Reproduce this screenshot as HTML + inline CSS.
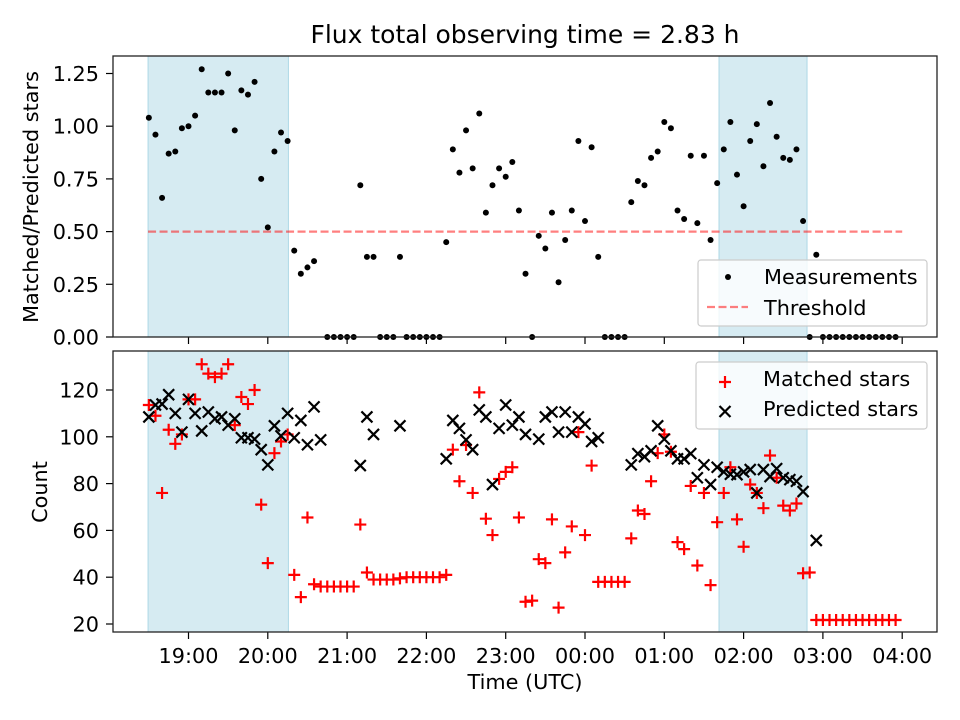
<!DOCTYPE html>
<html><head><meta charset="utf-8"><style>
body{margin:0;background:#fff}
svg{display:block;font-family:"DejaVu Sans","Liberation Sans",sans-serif}
</style></head><body>
<svg id="chart" width="960" height="720" viewBox="0 0 960 720" xmlns="http://www.w3.org/2000/svg">
<rect width="960" height="720" fill="#fff"/>
<text x="525" y="43" font-size="25" text-anchor="middle" fill="#000">Flux total observing time = 2.83 h</text>
<g id="topPlot"></g><g id="botPlot"></g>
</svg>
<script>
// Sample times: index k -> 18:30 + 5 min * k
const startTime = 18.5;
const stepMinutes = 5;
const ratio = [1.04,0.96,0.66,0.87,0.88,0.99,1.00,1.05,1.27,1.16,1.16,1.16,1.25,0.98,1.17,1.15,1.21,0.75,0.52,0.88,0.97,0.93,0.41,0.30,0.33,0.36,null,0,0,0,0,0,0.72,0.38,0.38,0,0,0,0.38,0,0,0,0,0,0,0.45,0.89,0.78,0.98,0.80,1.06,0.59,0.72,0.80,0.76,0.83,0.60,0.30,0,0.48,0.42,0.59,0.26,0.46,0.60,0.93,0.55,0.90,0.38,0,0,0,0,0.64,0.74,0.72,0.85,0.88,1.02,0.99,0.60,0.56,0.86,0.54,0.86,0.46,0.73,0.89,1.02,0.77,0.62,0.93,1.01,0.81,1.11,0.95,0.85,0.84,0.89,0.55,0,0.39,0,0,0,0,0,0,0,0,0,0,0,0];
const matched = [113.6,109,76,103,97,101,116,116,131,127,125.5,127,131,105,117,114,120,71,46,93,98,101,41,31.5,65.5,37,36,36,36,36,36,36,62.5,42,39,39,39,39,39.5,40,40,40,40,40,40,41,94.5,81,96.5,76,119,65,58,82,85,87,65.5,29.5,30,47.7,46,64.7,27,50.6,61.7,102,58,87.7,38,38,38,38,38,56.6,68.5,67,81,93,101,93.6,55,52,79,45,76,36.6,63.5,76,87,64.7,53,79.6,76,69.5,92,82.5,70.6,68.5,71.5,41.7,42,21.7,21.7,21.7,21.7,21.7,21.7,21.7,21.7,21.7,21.7,21.7,21.7,21.7];
const predicted = [108.5,113.6,114,118,110,102,116,110,102.5,110.6,107.7,108.5,105,107.7,99.6,99.6,99,94.5,88,104.7,100.4,110,99.6,107,96.6,112.8,98.7,null,null,null,null,null,87.7,108.5,101,null,null,null,104.7,null,null,null,null,null,null,90.6,107,103.6,98.7,94.5,111.5,108.5,79.6,103.6,113.6,105,108.5,101,null,99,108.5,110.6,102,110.6,102,108.5,105.5,98,99.6,null,null,null,null,88,92.8,91.5,94,104.7,99,94,90.6,90.6,92.8,82.5,88,79.6,87,85,84,83.8,85,86,76,86,83,86.4,82.5,81.7,81,76.6,null,55.7];
const shadeBands = [[18.49,20.26],[25.69,26.80]];
const threshold = 0.5;
const thresholdRange = [18.49,28.0];
const xTickHours = [19,20,21,22,23,24,25,26,27,28];
const xTickLabels = ["19:00","20:00","21:00","22:00","23:00","00:00","01:00","02:00","03:00","04:00"];
const topTicks = [0,0.25,0.5,0.75,1.0,1.25];
const topTickLabels = ["0.00","0.25","0.50","0.75","1.00","1.25"];
const botTicks = [20,40,60,80,100,120];

const NS="http://www.w3.org/2000/svg";
const L=113,R=937;
const T1=56,B1=337,T2=351,B2=632;
const FS=20.8;
function X(t){return 188.5+(t-19)*79.3;}
function Y1(v){return 337-v*210.8;}
function Y2(v){return 624-(v-20)*2.34;}
function tk(k){return startTime+k*stepMinutes/60;}
function mk(tag,at,parent){const e=document.createElementNS(NS,tag);for(const a in at)e.setAttribute(a,at[a]);parent.appendChild(e);return e;}
const topG=document.getElementById('topPlot'),botG=document.getElementById('botPlot');

function axesBase(g,T,B){
  for(const b of shadeBands){
    const r=mk('rect',{x:X(b[0]),y:T,width:X(b[1])-X(b[0]),height:B-T,fill:'#add8e6','fill-opacity':0.5,stroke:'#add8e6','stroke-width':1},g);
    
    
  }
  xTickHours.forEach((h,i)=>{
    const l=mk('line',{x1:X(h),x2:X(h),y1:B,y2:B+7,stroke:'#000','stroke-width':1.2},g);
    
    
  });
}
function frame(g,T,B,name){
  const f=mk('rect',{x:L,y:T,width:R-L,height:B-T,fill:'none',stroke:'#222','stroke-width':1.3},g);
  
  
}
// TOP
axesBase(topG,T1,B1);
const th=mk('line',{x1:X(thresholdRange[0]),x2:X(thresholdRange[1]),y1:Y1(threshold),y2:Y1(threshold),stroke:'#ff0000','stroke-opacity':0.5,'stroke-width':2.2,'stroke-dasharray':'8,3.5'},topG);


ratio.forEach((v,k)=>{if(v===null)return;
  const c=mk('circle',{cx:X(tk(k)),cy:Y1(v),r:3,fill:'#000'},topG);
  
  
});
topTicks.forEach((v,i)=>{
  mk('line',{x1:L-7,x2:L,y1:Y1(v),y2:Y1(v),stroke:'#000','stroke-width':1.2},topG);
  const t=mk('text',{x:L-14,y:Y1(v)+7.5,'font-size':FS,'text-anchor':'end'},topG);t.textContent=topTickLabels[i];
  
  
});
frame(topG,T1,B1,'top-axes');
{const t=mk('text',{x:0,y:0,'font-size':FS,'text-anchor':'middle',transform:'translate(38,197) rotate(-90)'},topG);t.textContent='Matched/Predicted stars';

}
{const g=mk('g',{},topG);


mk('rect',{x:698,y:260,width:229,height:66,rx:3,fill:'#fff','fill-opacity':0.8,stroke:'#ccc','stroke-width':1.2},g);
mk('circle',{cx:728,cy:277,r:3,fill:'#000'},g);
let t=mk('text',{x:764,y:284,'font-size':FS},g);t.textContent='Measurements';
mk('line',{x1:707,x2:748,y1:307,y2:307,stroke:'#ff0000','stroke-opacity':0.5,'stroke-width':2.2,'stroke-dasharray':'8,3.5'},g);
t=mk('text',{x:764,y:315,'font-size':FS},g);t.textContent='Threshold';}

// BOTTOM
axesBase(botG,T2,B2);
matched.forEach((v,k)=>{if(v===null)return;
  const x=X(tk(k)),y=Y2(v);
  const p=mk('path',{d:`M${x-6},${y}H${x+6}M${x},${y-6}V${y+6}`,stroke:'#ff0000','stroke-width':2.2},botG);
  
  
});
predicted.forEach((v,k)=>{if(v===null)return;
  const x=X(tk(k)),y=Y2(v);
  const p=mk('path',{d:`M${x-5.5},${y-5.5}L${x+5.5},${y+5.5}M${x-5.5},${y+5.5}L${x+5.5},${y-5.5}`,stroke:'#000','stroke-width':2.2},botG);
  
  
});
botTicks.forEach(v=>{
  mk('line',{x1:L-7,x2:L,y1:Y2(v),y2:Y2(v),stroke:'#000','stroke-width':1.2},botG);
  const t=mk('text',{x:L-14,y:Y2(v)+7.5,'font-size':FS,'text-anchor':'end'},botG);t.textContent=String(v);
  
  
});
xTickHours.forEach((h,i)=>{
  const t=mk('text',{x:X(h),y:663,'font-size':FS,'text-anchor':'middle'},botG);t.textContent=xTickLabels[i];
  
  
});
frame(botG,T2,B2,'bottom-axes');
{let t=mk('text',{x:0,y:0,'font-size':FS,'text-anchor':'middle',transform:'translate(47,492) rotate(-90)'},botG);t.textContent='Count';


t=mk('text',{x:525,y:689,'font-size':FS,'text-anchor':'middle'},botG);t.textContent='Time (UTC)';

}
{const g=mk('g',{},botG);


mk('rect',{x:696,y:362,width:231,height:67,rx:3,fill:'#fff','fill-opacity':0.8,stroke:'#ccc','stroke-width':1.2},g);
mk('path',{d:'M719,382H731M725,376V388',stroke:'#ff0000','stroke-width':2.2},g);
let t=mk('text',{x:763,y:386,'font-size':FS},g);t.textContent='Matched stars';
mk('path',{d:'M719.5,406L730.5,417M719.5,417L730.5,406',stroke:'#000','stroke-width':2.2},g);
t=mk('text',{x:763,y:416,'font-size':FS},g);t.textContent='Predicted stars';}
</script>
</body></html>
